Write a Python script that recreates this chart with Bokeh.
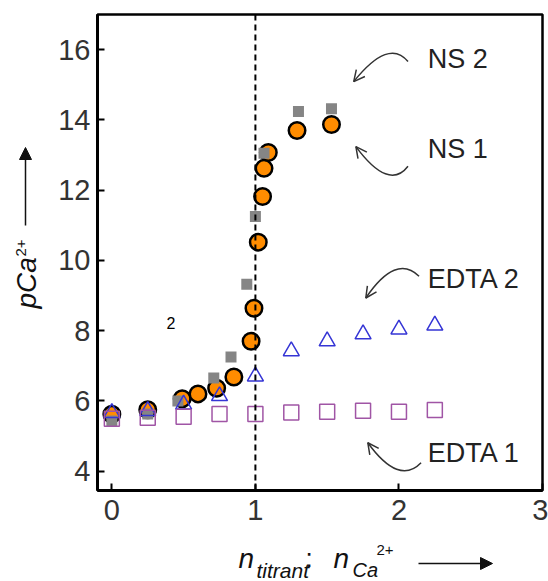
import math
from bokeh.plotting import figure
from bokeh.layouts import row, column
from bokeh.models import Range1d, Span, Label, Arrow, OpenHead, NormalHead, FixedTicker
from bokeh.embed import file_html
from bokeh.resources import INLINE

# ---- data ----
ns1_x = [0, 0.25, 0.49, 0.6, 0.73, 0.85, 0.97, 0.99, 1.02, 1.05, 1.06, 1.09, 1.29, 1.53]
ns1_y = [5.62, 5.75, 6.06, 6.2, 6.36, 6.68, 7.7, 8.64, 10.52, 11.82, 12.62, 13.07, 13.7, 13.87]

ns2_x = [0, 0.25, 0.46, 0.71, 0.83, 0.94, 1.0, 1.06, 1.3, 1.53]
ns2_y = [5.43, 5.63, 6.0, 6.65, 7.25, 9.32, 11.25, 13.05, 14.24, 14.32]

edta_x = [0, 0.25, 0.5, 0.75, 1.0, 1.25, 1.5, 1.75, 2.0, 2.25]
edta2_y = [5.66, 5.72, 5.9, 6.14, 6.7, 7.42, 7.7, 7.9, 8.04, 8.15]
edta1_y = [5.49, 5.52, 5.55, 5.63, 5.63, 5.67, 5.69, 5.72, 5.69, 5.74]

x_ticks = [0, 1, 2, 3]
y_ticks = [4, 6, 8, 10, 12, 14, 16]
equiv_x = 1.0

# annotation labels
ann_text = ["NS 2", "NS 1", "EDTA 2", "EDTA 1"]
ann_x = [2.2, 2.2, 2.2, 2.2]
ann_y = [15.46, 12.875, 9.18, 4.24]
# curved arrows: start, control, end (tip)
arr_x0 = [2.063, 2.063, 2.14, 2.154]
arr_y0 = [15.66, 12.68, 9.55, 4.24]
arr_cx = [1.93, 1.93, 1.979, 2.0]
arr_cy = [16.34, 11.97, 10.2, 3.585]
arr_x1 = [1.685, 1.70, 1.769, 1.783]
arr_y1 = [15.09, 13.24, 8.93, 4.81]

FONT = "Liberation Sans"
INK = "#333333"
DARK = "#111111"

W, H = 548, 581
FR_L, FR_R, FR_T, FR_B = 97, 542, 14, 490   # plot frame in page px
YL_W = 52           # width of the y-label strip
MAIN_H = 538        # height of the main plot
XL_H = H - MAIN_H   # height of the x-label strip

# ---------------- main plot ----------------
p = figure(width=W - YL_W, height=MAIN_H, x_range=Range1d(-0.1, 3.0), y_range=Range1d(3.45, 17.0),
           output_backend="svg", toolbar_location=None,
           min_border_left=FR_L - YL_W, min_border_right=W - FR_R, min_border_top=FR_T,
           min_border_bottom=MAIN_H - FR_B)
p.background_fill_color = "white"
p.border_fill_color = "white"
p.xgrid.visible = False
p.ygrid.visible = False
p.outline_line_color = "black"
p.outline_line_width = 2.5

for ax in (p.xaxis[0], p.yaxis[0]):
    ax.axis_line_width = 3
    ax.axis_line_color = "black"
    ax.major_tick_in = 7
    ax.major_tick_out = 0
    ax.major_tick_line_width = 2
    ax.major_tick_line_color = "black"
    ax.minor_tick_line_color = None
    ax.major_label_text_font = FONT
    ax.major_label_text_font_size = "29px"
    ax.major_label_text_color = INK
p.xaxis.ticker = FixedTicker(ticks=x_ticks)
p.yaxis.ticker = FixedTicker(ticks=y_ticks)
p.xaxis.major_label_standoff = 9
p.yaxis.major_label_standoff = 7

p.add_layout(Span(location=equiv_x, dimension="height", line_color="black",
                  line_width=2, line_dash="6 4"))

# series
p.scatter(ns1_x, ns1_y, marker="circle", size=16.5, fill_color="#FF8C00",
          line_color="black", line_width=2.5)
p.scatter(ns2_x, ns2_y, marker="square", size=11, fill_color="#858585",
          line_color=None)
p.scatter(edta_x, edta2_y, marker="triangle", size=16, fill_color=None,
          line_color="#3535D5", line_width=1.5)
p.scatter(edta_x, edta1_y, marker="square", size=15, fill_color=None,
          line_color="#A055A5", line_width=1.5)

# annotations
for t, x, y in zip(ann_text, ann_x, ann_y):
    p.add_layout(Label(x=x, y=y, text=t, text_font=FONT, text_font_size="27px",
                       text_color="#222222", text_baseline="bottom", y_offset=-5))
p.quadratic(x0=arr_x0, y0=arr_y0, x1=arr_x1, y1=arr_y1, cx=arr_cx, cy=arr_cy,
            line_color=INK, line_width=1.5)
for x1, y1, cx, cy in zip(arr_x1, arr_y1, arr_cx, arr_cy):
    xs = x1 + (cx - x1) * 0.08
    ys = y1 + (cy - y1) * 0.08
    p.add_layout(Arrow(end=OpenHead(size=11, line_width=1.5, line_color=INK),
                       x_start=xs, y_start=ys, x_end=x1, y_end=y1,
                       line_color=INK, line_width=0))

p.add_layout(Label(x=0.38, y=8.05, text="2", text_font=FONT, text_font_size="16px",
                   text_color="black"))


def strip(width, height, xr, yr, bl=0, br=0, bt=0, bb=0):
    f = figure(width=width, height=height, x_range=Range1d(*xr), y_range=Range1d(*yr),
               output_backend="svg", toolbar_location=None,
               x_axis_location=None, y_axis_location=None,
               min_border_left=bl, min_border_right=br, min_border_top=bt, min_border_bottom=bb)
    f.xgrid.visible = False
    f.ygrid.visible = False
    f.outline_line_color = None
    f.background_fill_color = "white"
    f.border_fill_color = "white"
    return f


def lab(f, x, y, t, size, style="normal", angle=0.0):
    px = int(size.replace("px", ""))
    yoff = 0 if angle else -round(0.2 * px)
    f.add_layout(Label(x=x, y=y, text=t, text_font=FONT, text_font_size=size,
                       text_font_style=style, text_color=DARK, angle=angle,
                       text_baseline="bottom", y_offset=yoff))


# ---------------- y-label strip (x in page px, y measured upward from page bottom) ----------------
yl = strip(YL_W, H, (0, YL_W), (H - FR_B, H - FR_T), bt=FR_T, bb=H - FR_B)
lab(yl, 41, H - 308, "pCa", "28px", "italic", angle=math.pi / 2)
lab(yl, 25, H - 256, "2+", "15px", angle=math.pi / 2)
yl.add_layout(Arrow(end=NormalHead(size=12, fill_color=DARK, line_color=DARK),
                    x_start=25, y_start=H - 225, x_end=25, y_end=H - 147,
                    line_color=DARK, line_width=1.5))

# ---------------- x-label strip (x in page px, y measured upward from page bottom) ----------------
xl = strip(W - YL_W, XL_H, (FR_L, FR_R), (0, XL_H), bl=FR_L - YL_W, br=W - FR_R)
lab(xl, 238, H - 567, "n", "28px", "italic")
lab(xl, 256, H - 577, "titrant", "21px", "italic")
lab(xl, 305, H - 567, ":", "26px")
lab(xl, 333, H - 567, "n", "28px", "italic")
lab(xl, 352, H - 576, "Ca", "20px", "italic")
lab(xl, 376, H - 551, "2+", "15px")
xl.add_layout(Arrow(end=NormalHead(size=12, fill_color=DARK, line_color=DARK),
                    x_start=418, y_start=H - 563, x_end=492, y_end=H - 563,
                    line_color=DARK, line_width=1.5))

layout = row(yl, column(p, xl))
open("out.html", "w").write(file_html(layout, INLINE))
